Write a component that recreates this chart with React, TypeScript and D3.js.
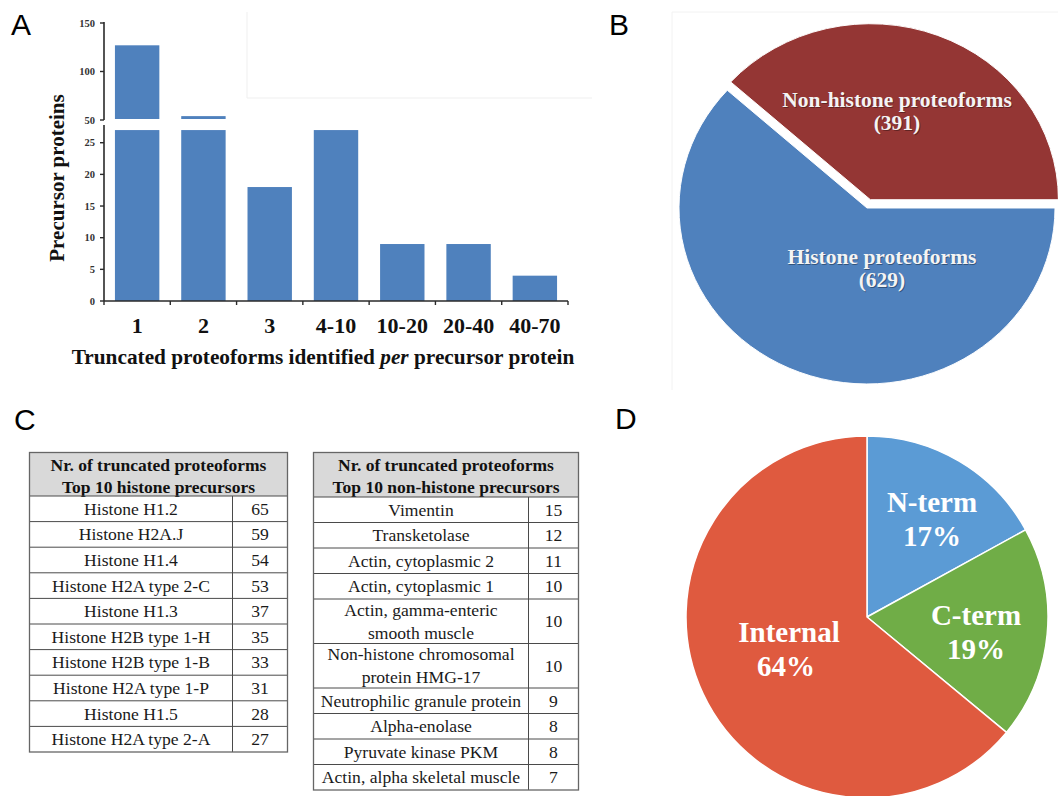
import React from "react";
import * as d3 from "d3";

// ---------- Panel A data ----------
const barCategories = ["1", "2", "3", "4-10", "10-20", "20-40", "40-70"];
const precursorCounts = [127, 54, 18, 27, 9, 9, 4];
const upperTicks = [50, 100, 150];
const lowerTicks = [0, 5, 10, 15, 20, 25];

// ---------- Panel B data ----------
const pieBLabels = ["Non-histone proteoforms", "Histone proteoforms"];
const pieBValues = [391, 629];

// ---------- Panel C data ----------
const histoneNames = [
  "Histone H1.2",
  "Histone H2A.J",
  "Histone H1.4",
  "Histone H2A type 2-C",
  "Histone H1.3",
  "Histone H2B type 1-H",
  "Histone H2B type 1-B",
  "Histone H2A type 1-P",
  "Histone H1.5",
  "Histone H2A type 2-A",
];
const histoneCounts = [65, 59, 54, 53, 37, 35, 33, 31, 28, 27];
const nonHistoneNames = [
  "Vimentin",
  "Transketolase",
  "Actin, cytoplasmic 2",
  "Actin, cytoplasmic 1",
  "Actin, gamma-enteric\nsmooth muscle",
  "Non-histone chromosomal\nprotein HMG-17",
  "Neutrophilic granule protein",
  "Alpha-enolase",
  "Pyruvate kinase PKM",
  "Actin, alpha skeletal muscle",
];
const nonHistoneCounts = [15, 12, 11, 10, 10, 10, 9, 8, 8, 7];

// ---------- Panel D data ----------
const pieDLabels = ["N-term", "C-term", "Internal"];
const pieDValues = [17, 19, 64];

const SERIF = "'Liberation Serif', 'Times New Roman', Times, serif";
const SANS = "'Liberation Sans', Arial, Helvetica, sans-serif";
const BAR_BLUE = "#4f81bd";
const RAD = Math.PI / 180;

function PanelA() {
  const x = d3
    .scaleBand<string>()
    .domain(barCategories)
    .range([104, 568])
    .paddingInner(0.33)
    .paddingOuter(0.165);
  const yLow = d3.scaleLinear().domain([0, 27.8]).range([301, 125]);
  const yUp = d3.scaleLinear().domain([50, 150]).range([120, 23]);
  const lowCap = 27;
  const step = x.step();
  const x0 = x.range()[0];
  const bounds = d3.range(barCategories.length + 1).map((i) => x0 + i * step);
  const axisColor = "#2a2a2a";

  return (
    <g>
      {/* faint frame artifacts */}
      <path d="M247,12 V98 H592" fill="none" stroke="#efefef" strokeWidth={1} />

      {/* lower bars */}
      {precursorCounts.map((v, i) => {
        const top = yLow(Math.min(v, lowCap));
        return (
          <rect
            key={"lb" + i}
            x={x(barCategories[i])}
            y={top}
            width={x.bandwidth()}
            height={yLow(0) - top}
            fill={BAR_BLUE}
          />
        );
      })}
      {/* upper bars */}
      {precursorCounts.map((v, i) =>
        v > 50 ? (
          <rect
            key={"ub" + i}
            x={x(barCategories[i])}
            y={yUp(v)}
            width={x.bandwidth()}
            height={yUp(50) - 1 - yUp(v)}
            fill={BAR_BLUE}
          />
        ) : null
      )}

      {/* y axis upper */}
      <line x1={104} x2={104} y1={yUp(150) - 1} y2={yUp(50)} stroke={axisColor} strokeWidth={1.6} />
      {upperTicks.map((t) => (
        <g key={"ut" + t}>
          <line x1={100} x2={104} y1={yUp(t)} y2={yUp(t)} stroke={axisColor} strokeWidth={1.4} />
          <text x={95} y={yUp(t)} dy="0.35em" textAnchor="end" fontFamily={SERIF} fontWeight="bold" fontSize={10.5} fill="#333">
            {t}
          </text>
        </g>
      ))}
      {/* y axis lower */}
      <line x1={104} x2={104} y1={yLow(27.8)} y2={yLow(0)} stroke={axisColor} strokeWidth={1.6} />
      {lowerTicks.map((t) => (
        <g key={"lt" + t}>
          <line x1={100} x2={104} y1={yLow(t)} y2={yLow(t)} stroke={axisColor} strokeWidth={1.4} />
          <text x={95} y={yLow(t)} dy="0.35em" textAnchor="end" fontFamily={SERIF} fontWeight="bold" fontSize={10.5} fill="#333">
            {t}
          </text>
        </g>
      ))}

      {/* x axis */}
      <line x1={104} x2={bounds[bounds.length - 1]} y1={yLow(0)} y2={yLow(0)} stroke={axisColor} strokeWidth={1.6} />
      {bounds.map((b, i) => (
        <line key={"xt" + i} x1={b} x2={b} y1={yLow(0)} y2={yLow(0) + 4} stroke={axisColor} strokeWidth={1.4} />
      ))}
      {barCategories.map((c) => (
        <text
          key={"xl" + c}
          x={(x(c) as number) + x.bandwidth() / 2}
          y={333}
          textAnchor="middle"
          fontFamily={SERIF}
          fontWeight="bold"
          fontSize={22}
          fill="#111"
        >
          {c}
        </text>
      ))}

      {/* titles */}
      <text x={323} y={364} textAnchor="middle" fontFamily={SERIF} fontWeight="bold" fontSize={21.3} fill="#111">
        Truncated proteoforms identified <tspan fontStyle="italic">per</tspan> precursor protein
      </text>
      <text
        transform="translate(64,178) rotate(-90)"
        textAnchor="middle"
        fontFamily={SERIF}
        fontWeight="bold"
        fontSize={21}
        fill="#111"
      >
        Precursor proteins
      </text>
    </g>
  );
}

function ShadowText(props: { x: number; y: number; size: number; children: React.ReactNode }) {
  const { x, y, size, children } = props;
  return (
    <g fontFamily={SERIF} fontWeight="bold" fontSize={size} textAnchor="middle">
      <text x={x + 0.8} y={y + 0.8} fill="#000" fillOpacity={0.35}>
        {children}
      </text>
      <text x={x} y={y} fill="#f4f4f4">
        {children}
      </text>
    </g>
  );
}

function PanelB() {
  const cx = 867;
  const cy = 208;
  const r = 188;
  const pie = d3
    .pie<number>()
    .sort(null)
    .startAngle(-48 * RAD)
    .endAngle(312 * RAD);
  const arcs = pie(pieBValues);
  const arcGen = d3.arc<d3.PieArcDatum<number>>().innerRadius(0).outerRadius(r);
  const colors = ["#943634", "#4f81bd"];
  const explode = [9.5, 0];
  const labelPos = [
    { x: 30, y: -101 },
    { x: 15, y: 56 },
  ];
  return (
    <g>
      <path d="M672,390 V12 H1058" fill="none" stroke="#f2f2f2" strokeWidth={1} />
      <g transform={`translate(${cx},${cy}) scale(1,0.936)`}>
        {arcs.map((a, i) => {
          const mid = (a.startAngle + a.endAngle) / 2;
          const dx = Math.sin(mid) * explode[i];
          const dy = -Math.cos(mid) * explode[i];
          return (
            <path
              key={"b" + i}
              d={arcGen(a) as string}
              transform={`translate(${dx},${dy})`}
              fill={colors[i]}
              stroke="#fff"
              strokeWidth={1}
            />
          );
        })}
      </g>
      {pieBLabels.map((lab, i) => (
        <g key={"bl" + i}>
          <ShadowText x={cx + labelPos[i].x} y={cy + labelPos[i].y} size={21.5}>
            {lab}
          </ShadowText>
          <ShadowText x={cx + labelPos[i].x} y={cy + labelPos[i].y + 23} size={21.5}>
            {"(" + pieBValues[i] + ")"}
          </ShadowText>
        </g>
      ))}
    </g>
  );
}

function Table(props: {
  x: number;
  nameW: number;
  valW: number;
  top: number;
  headerH: number;
  title2: string;
  names: string[];
  values: number[];
  singleH: number;
  doubleH: number;
}) {
  const { x, nameW, valW, top, headerH, title2, names, values, singleH, doubleH } = props;
  const heights = names.map((n) => (n.includes("\n") ? doubleH : singleH));
  const ys: number[] = [];
  let acc = top + headerH;
  heights.forEach((h) => {
    ys.push(acc);
    acc += h;
  });
  const bottom = acc;
  const W = nameW + valW;
  const lineColor = "#4a4a4a";
  return (
    <g>
      <rect x={x} y={top} width={W} height={headerH} fill="#d9d9d9" />
      <text x={x + W / 2} y={top + 18.5} textAnchor="middle" fontFamily={SERIF} fontWeight="bold" fontSize={17.5} fill="#111">
        Nr. of truncated proteoforms
      </text>
      <text x={x + W / 2} y={top + 40.5} textAnchor="middle" fontFamily={SERIF} fontWeight="bold" fontSize={17.5} fill="#111">
        {title2}
      </text>
      {names.map((n, i) => {
        const lines = n.split("\n");
        const cyRow = ys[i] + heights[i] / 2;
        return (
          <g key={"r" + i}>
            <line x1={x} x2={x + W} y1={ys[i]} y2={ys[i]} stroke={lineColor} strokeWidth={1} />
            {lines.map((ln, j) => (
              <text
                key={j}
                x={x + nameW / 2}
                y={cyRow + (j - (lines.length - 1) / 2) * 23 + 6}
                textAnchor="middle"
                fontFamily={SERIF}
                fontSize={17.6}
                fill="#1a1a1a"
              >
                {ln}
              </text>
            ))}
            <text x={x + nameW + valW / 2} y={cyRow + 6} textAnchor="middle" fontFamily={SERIF} fontSize={17.6} fill="#1a1a1a">
              {values[i]}
            </text>
          </g>
        );
      })}
      <line x1={x + nameW} x2={x + nameW} y1={top + headerH} y2={bottom} stroke={lineColor} strokeWidth={1} />
      <rect x={x} y={top} width={W} height={bottom - top} fill="none" stroke="#666" strokeWidth={1.3} />
    </g>
  );
}

function PanelC() {
  return (
    <g>
      <Table
        x={29.5}
        nameW={203}
        valW={55}
        top={452.5}
        headerH={43.5}
        title2="Top 10 histone precursors"
        names={histoneNames}
        values={histoneCounts}
        singleH={25.6}
        doubleH={44.5}
      />
      <Table
        x={313.5}
        nameW={215}
        valW={50}
        top={452.5}
        headerH={44.5}
        title2="Top 10 non-histone precursors"
        names={nonHistoneNames}
        values={nonHistoneCounts}
        singleH={25.5}
        doubleH={44.5}
      />
    </g>
  );
}

function PanelD() {
  const cx = 867;
  const cy = 617;
  const r = 181;
  const pie = d3.pie<number>().sort(null).startAngle(0).endAngle(2 * Math.PI);
  const arcs = pie(pieDValues);
  const arcGen = d3.arc<d3.PieArcDatum<number>>().innerRadius(0).outerRadius(r);
  const colors = ["#5b9bd5", "#70ad47", "#df5a3f"];
  const labelPos = [
    { x: 65, y: -105 },
    { x: 109, y: 8 },
    { x: -78, y: 25 },
  ];
  return (
    <g>
      {arcs.map((a, i) => (
        <path
          key={"d" + i}
          d={arcGen(a) as string}
          transform={`translate(${cx},${cy})`}
          fill={colors[i]}
          stroke="#fff"
          strokeWidth={1.5}
        />
      ))}
      {pieDLabels.map((lab, i) => (
        <g key={"dl" + i} fontFamily={SERIF} fontWeight="bold" fontSize={29} fill="#fff" textAnchor="middle">
          <text x={cx + labelPos[i].x} y={cy + labelPos[i].y}>
            {lab}
          </text>
          <text x={cx + labelPos[i].x - (i === 2 ? 3 : 0)} y={cy + labelPos[i].y + 34}>
            {pieDValues[i] + "%"}
          </text>
        </g>
      ))}
    </g>
  );
}

export default function App() {
  return (
    <svg
      width={1058}
      height={796}
      viewBox="0 0 1058 796"
      style={{ position: "absolute", left: 0, top: 0, background: "#fff" }}
    >
      <rect x={0} y={0} width={1058} height={796} fill="#fff" />
      <PanelA />
      <PanelB />
      <PanelC />
      <PanelD />
      <g fontFamily={SANS} fontSize={30} fill="#000">
        <text x={11} y={35}>A</text>
        <text x={609} y={35}>B</text>
        <text x={14} y={430}>C</text>
        <text x={615} y={429}>D</text>
      </g>
    </svg>
  );
}
